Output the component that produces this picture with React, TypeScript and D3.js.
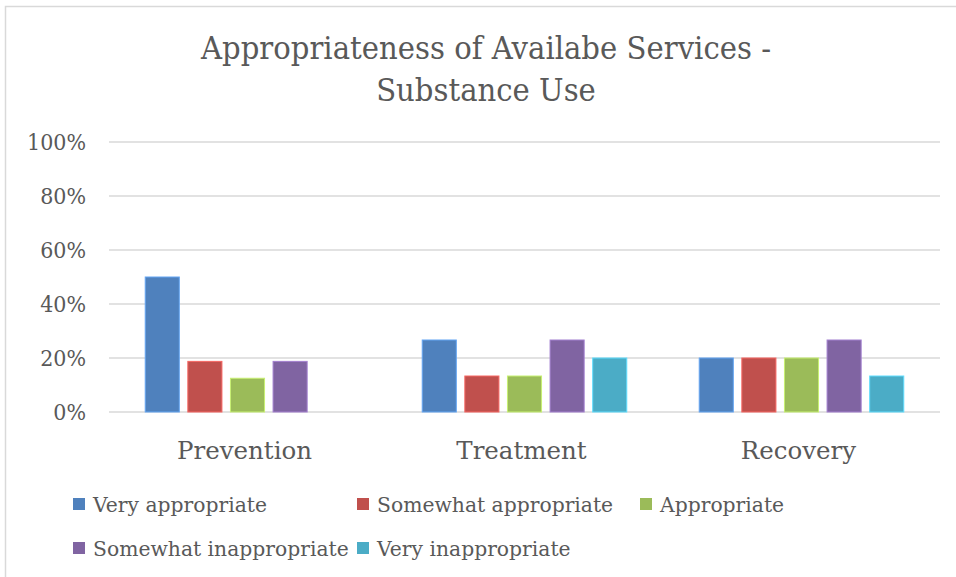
import React, { useEffect, useRef } from "react";
import * as d3 from "d3";

const categories = ["Prevention", "Treatment", "Recovery"];
const seriesNames = [
  "Very appropriate",
  "Somewhat appropriate",
  "Appropriate",
  "Somewhat inappropriate",
  "Very inappropriate",
];
const seriesColors = ["#4F81BD", "#C0504D", "#9BBB59", "#8064A2", "#4BACC6"];
const veryAppropriate = [50, 26.67, 20];
const somewhatAppropriate = [18.75, 13.33, 20];
const appropriate = [12.5, 13.33, 20];
const somewhatInappropriate = [18.75, 26.67, 26.67];
const veryInappropriate = [0, 20, 13.33];
const yTicks = [0, 20, 40, 60, 80, 100];
const titleLines = ["Appropriateness of Availabe Services -", "Substance Use"];

const seriesValues = [
  veryAppropriate,
  somewhatAppropriate,
  appropriate,
  somewhatInappropriate,
  veryInappropriate,
];

const W = 956;
const H = 577;
const FONT = "'DejaVu Serif', 'Liberation Serif', serif";
const TEXT = "#595959";

// squeeze a selection of texts so that the first one gets the target width
function fitGroup(sel: d3.Selection<SVGTextElement, any, any, any>, refWidth: number) {
  const nodes = sel.nodes();
  if (!nodes.length) return;
  const natural0 = nodes[0].getComputedTextLength();
  if (!natural0) return;
  const f = refWidth / natural0;
  nodes.forEach((n) => {
    const w = n.getComputedTextLength();
    n.setAttribute("textLength", String(w * f));
    n.setAttribute("lengthAdjust", "spacingAndGlyphs");
  });
}

export default function App() {
  const ref = useRef<SVGSVGElement>(null);

  useEffect(() => {
    const svg = d3.select(ref.current);
    svg.selectAll("*").remove();

    // chart border
    svg
      .append("rect")
      .attr("x", 5.5)
      .attr("y", 6.5)
      .attr("width", 1200)
      .attr("height", 1200)
      .attr("fill", "white")
      .attr("stroke", "#d9d9d9")
      .attr("stroke-width", 1.5);

    const left = 109;
    const right = 940;
    const top = 142;
    const bottom = 412;

    const x = d3.scaleBand<string>().domain(categories).range([left, right]).paddingInner(0).paddingOuter(0);
    const y = d3.scaleLinear().domain([0, 100]).range([bottom, top]);

    // gridlines
    svg
      .append("g")
      .selectAll("line")
      .data(yTicks)
      .join("line")
      .attr("x1", left)
      .attr("x2", right)
      .attr("y1", (d) => y(d))
      .attr("y2", (d) => y(d))
      .attr("stroke", "#d9d9d9")
      .attr("stroke-width", 1.5);

    // y labels
    const yl = svg
      .append("g")
      .selectAll("text")
      .data([100, 80, 60, 40, 20, 0])
      .join("text")
      .attr("x", 86)
      .attr("y", (d) => y(d))
      .attr("dy", "0.36em")
      .attr("text-anchor", "end")
      .attr("font-family", FONT)
      .attr("font-size", 22)
      .attr("fill", TEXT)
      .text((d) => `${d}%`);
    fitGroup(yl as any, 59);

    // bars
    const slot = x.bandwidth() / (seriesNames.length + 1.5);
    const barW = slot * 0.8;
    const inner = d3
      .scaleBand<number>()
      .domain(d3.range(seriesNames.length))
      .range([slot * 0.75, x.bandwidth() - slot * 0.75]);

    categories.forEach((cat, ci) => {
      const g = svg.append("g").attr("transform", `translate(${x(cat)},0)`);
      seriesValues.forEach((vals, si) => {
        const v = vals[ci];
        if (v <= 0) return;
        const bx = (inner(si) as number) + (inner.bandwidth() - barW) / 2;
        g.append("rect")
          .attr("x", bx)
          .attr("y", y(v))
          .attr("width", barW)
          .attr("height", y(0) - y(v))
          .attr("fill", seriesColors[si])
          .attr("stroke", d3.color(seriesColors[si])!.brighter(0.7).formatHex())
          .attr("stroke-width", 1);
      });
    });

    // category labels
    const cl = svg
      .append("g")
      .selectAll("text")
      .data(categories)
      .join("text")
      .attr("x", (d) => (x(d) as number) + x.bandwidth() / 2 - 3)
      .attr("y", 459)
      .attr("text-anchor", "middle")
      .attr("font-family", FONT)
      .attr("font-size", 25)
      .attr("fill", TEXT)
      .text((d) => d);
    fitGroup(cl as any, 135);

    // title
    const tl = svg
      .append("g")
      .selectAll("text")
      .data(titleLines)
      .join("text")
      .attr("x", 486)
      .attr("y", (d, i) => 59 + i * 42)
      .attr("text-anchor", "middle")
      .attr("font-family", FONT)
      .attr("font-size", 32)
      .attr("fill", TEXT)
      .text((d) => d);
    fitGroup(tl as any, 570);

    // legend
    const legendPos = [
      [73, 504],
      [357, 504],
      [640, 504],
      [73, 548],
      [357, 548],
    ];
    const legendTexts: SVGTextElement[] = [];
    seriesNames.forEach((name, i) => {
      const [lx, ly] = legendPos[i];
      svg
        .append("rect")
        .attr("x", lx)
        .attr("y", ly - 6)
        .attr("width", 12)
        .attr("height", 12)
        .attr("fill", seriesColors[i]);
      const t = svg
        .append("text")
        .attr("x", lx + 20)
        .attr("y", ly)
        .attr("dy", "0.36em")
        .attr("font-family", FONT)
        .attr("font-size", 21)
        .attr("fill", TEXT)
        .text(name);
      legendTexts.push(t.node() as SVGTextElement);
    });
    fitGroup(d3.selectAll(legendTexts) as any, 174);
  }, []);

  return (
    <svg
      ref={ref}
      width={W}
      height={H}
      style={{ position: "absolute", left: 0, top: 0, display: "block", background: "white" }}
    />
  );
}
